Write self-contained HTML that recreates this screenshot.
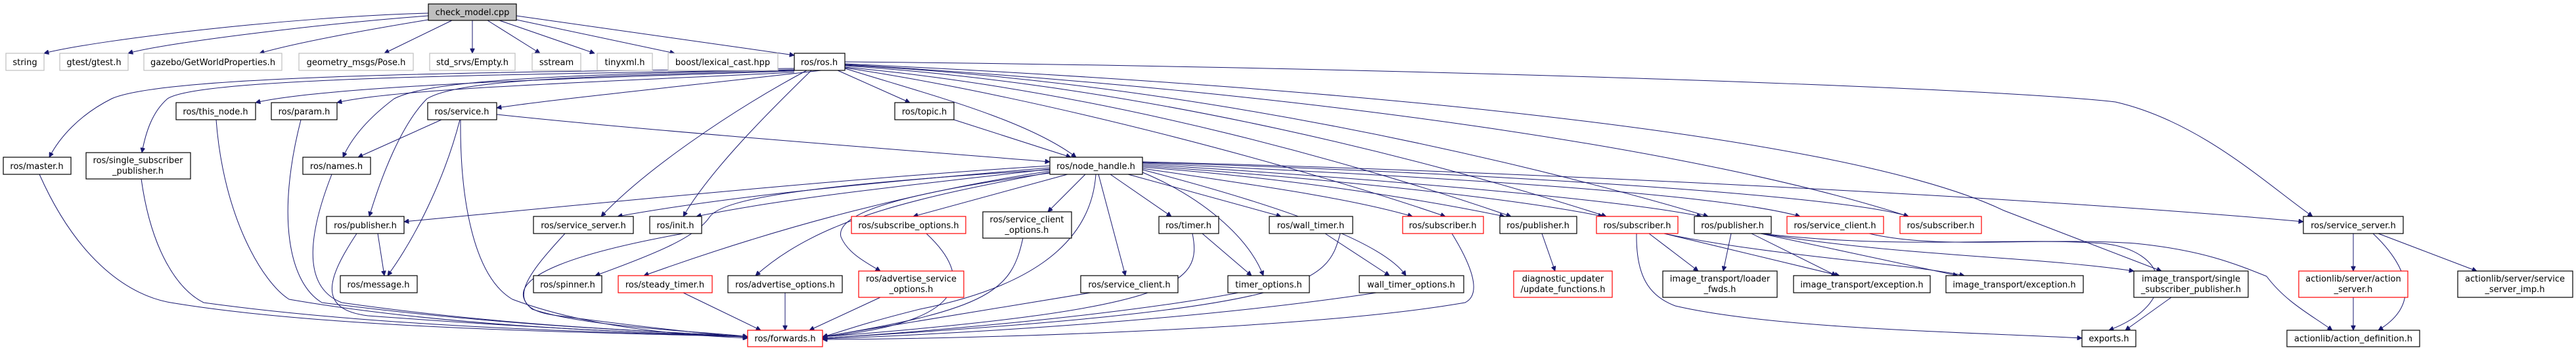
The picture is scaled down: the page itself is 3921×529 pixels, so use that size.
<!DOCTYPE html>
<html><head><meta charset="utf-8"><style>
html,body{margin:0;padding:0;background:#fff;}
svg{display:block;}
text{font-family:"DejaVu Sans","Liberation Sans",sans-serif;font-size:13px;fill:#000;text-anchor:middle;}
.n{fill:#fff;stroke:#000;stroke-width:1.2;}
.g{fill:#fff;stroke:#bfbfbf;stroke-width:1.2;}
.r{fill:#fff;stroke:#ff0000;stroke-width:1.2;}
.e path{fill:none;stroke:#191970;stroke-width:1;marker-end:url(#a);}
</style></head><body>
<svg width="3921" height="529" viewBox="0 0 3921 529" xmlns="http://www.w3.org/2000/svg">
<defs><marker id="a" viewBox="0 0 10 10" refX="10" refY="5" markerWidth="10" markerHeight="7" markerUnits="userSpaceOnUse" orient="auto"><path d="M0,0 L10,5 L0,10 z" fill="#191970" stroke="#191970"/></marker></defs>
<g class="e">
<path d="M652,20 C450,25 150,60 67,81"/>
<path d="M652,24 C500,35 250,65 195,81"/>
<path d="M652,30 C560,45 450,65 395,81"/>
<path d="M688,31 L585,81"/>
<path d="M719,31 L719,81"/>
<path d="M742,31 L822,81"/>
<path d="M760,31 L905,81"/>
<path d="M786,30 L1027,81"/>
<path d="M786,24 L1209,84"/>
<path d="M1209,104 C700,110 250,115 170,150 C120,175 90,210 75,239"/>
<path d="M1209,106 C700,114 300,120 255,150 C232,170 222,200 216,232"/>
<path d="M1209,108 C900,118 500,130 389,156"/>
<path d="M1209,110 C900,125 600,135 513,156"/>
<path d="M1250,107 C1050,130 850,150 756,164"/>
<path d="M1209,106 C800,114 650,125 600,150 C560,180 535,210 522,239"/>
<path d="M1209,107 C900,116 700,120 650,150 C610,190 580,270 562,329"/>
<path d="M1228,107 C1110,170 980,260 915,329"/>
<path d="M1235,107 C1170,170 1080,260 1040,329"/>
<path d="M1275,107 L1385,156"/>
<path d="M1286,104 C1400,140 1560,180 1638,239"/>
<path d="M1286,103 C1600,150 2000,260 2200,329"/>
<path d="M1286,102 C1700,140 2100,260 2300,329"/>
<path d="M1286,100 C1750,130 2200,250 2445,329"/>
<path d="M1286,99 C1800,125 2300,240 2600,329"/>
<path d="M1286,98 C2000,140 2600,230 2905,329"/>
<path d="M1286,97 C2000,130 2800,200 3050,320 L3290,412"/>
<path d="M1286,94 C2000,100 3000,130 3220,155 C3350,185 3450,280 3520,329"/>
<path d="M1452,182 L1630,239"/>
<path d="M756,174 C1000,200 1400,230 1598,246"/>
<path d="M672,182 L545,239"/>
<path d="M700,182 C680,260 640,350 590,419"/>
<path d="M701,182 C700,300 720,420 780,455 C900,500 1050,510 1138,514"/>
<path d="M575,355 L585,419"/>
<path d="M1598,252 C1300,270 900,310 615,337"/>
<path d="M1598,255 C1300,280 1100,300 940,329"/>
<path d="M1598,257 C1400,280 1200,300 1060,329"/>
<path d="M1598,258 C1250,280 1100,300 1080,330 C1060,360 1000,385 906,419"/>
<path d="M1598,260 C1400,290 1200,340 980,419"/>
<path d="M1598,262 C1400,300 1250,330 1150,419"/>
<path d="M1598,263 C1400,290 1270,320 1280,360 C1290,385 1320,400 1340,412"/>
<path d="M1625,265 L1390,329"/>
<path d="M1652,265 L1595,322"/>
<path d="M1672,265 L1713,419"/>
<path d="M1668,265 C1660,380 1550,440 1400,470 C1300,495 1280,505 1252,512"/>
<path d="M1690,265 L1783,329"/>
<path d="M1717,265 L1950,329"/>
<path d="M1739,262 C1830,300 1900,360 1923,419"/>
<path d="M1739,258 C1900,300 2100,360 2140,419"/>
<path d="M1739,256 C1900,280 2050,300 2150,329"/>
<path d="M1739,254 C1950,270 2150,300 2290,329"/>
<path d="M1739,252 C2000,270 2300,300 2440,329"/>
<path d="M1739,250 C2000,265 2450,300 2590,329"/>
<path d="M1739,248 C2100,265 2600,290 2740,329"/>
<path d="M1739,247 C2200,260 2800,295 2905,329"/>
<path d="M1739,246 C2300,260 3100,300 3506,337"/>
<path d="M60,265 C120,400 200,450 260,460 C500,500 900,505 1138,512"/>
<path d="M215,272 C230,380 270,440 310,460 C600,500 950,505 1138,512"/>
<path d="M329,182 C340,330 400,430 440,455 C700,500 1000,505 1138,512"/>
<path d="M458,182 C420,330 440,430 490,460 C800,500 1050,505 1138,512"/>
<path d="M505,265 C460,380 470,440 520,460 C800,500 1050,505 1138,512"/>
<path d="M543,355 C500,420 480,470 560,480 C900,505 1100,510 1138,512"/>
<path d="M860,355 C800,420 760,470 850,480 C1000,500 1100,510 1138,512"/>
<path d="M1040,355 C900,380 750,420 810,470 C900,500 1100,505 1138,512"/>
<path d="M1040,445 L1158,502"/>
<path d="M1195,445 L1195,502"/>
<path d="M1340,452 L1232,502"/>
<path d="M1410,355 C1480,420 1480,490 1252,512"/>
<path d="M1557,362 C1540,440 1510,470 1252,512"/>
<path d="M1660,445 L1252,512"/>
<path d="M1815,355 C1830,430 1800,470 1252,512"/>
<path d="M1830,355 L1905,419"/>
<path d="M1885,445 C1700,480 1400,505 1252,514"/>
<path d="M2040,355 C2020,430 2000,470 1252,514"/>
<path d="M2017,355 L2115,419"/>
<path d="M2095,445 C1800,490 1400,510 1252,515"/>
<path d="M2210,355 C2250,420 2250,450 2230,460 C2000,500 1500,515 1252,516"/>
<path d="M2347,355 L2367,412"/>
<path d="M2510,355 L2585,412"/>
<path d="M2533,355 L2800,419"/>
<path d="M2533,355 C2700,390 2900,400 2990,419"/>
<path d="M2491,355 C2490,420 2510,450 2550,465 C2700,500 3000,505 3169,514"/>
<path d="M2635,355 L2623,412"/>
<path d="M2666,355 L2795,419"/>
<path d="M2680,355 L2980,419"/>
<path d="M2680,355 C2900,390 3100,390 3248,412"/>
<path d="M2680,355 C2900,380 3050,360 3200,370 C3300,380 3320,460 3210,502"/>
<path d="M2845,355 C2950,380 3100,360 3250,370 C3350,380 3400,400 3450,420 C3480,460 3520,480 3550,502"/>
<path d="M3305,452 L3235,502"/>
<path d="M3582,355 L3582,412"/>
<path d="M3582,452 L3582,502"/>
<path d="M3612,355 C3660,400 3690,460 3620,502"/>
<path d="M3620,355 L3770,412"/>
</g>
<g>
<rect x="652" y="6" width="134" height="25" fill="#bfbfbf" stroke="#000" stroke-width="1.2"/><text x="719" y="23">check_model.cpp</text>
<rect class="g" x="9" y="81" width="58" height="26"/><text x="38" y="99">string</text>
<rect class="g" x="91" y="81" width="104" height="26"/><text x="143" y="99">gtest/gtest.h</text>
<rect class="g" x="219" y="81" width="210" height="26"/><text x="324" y="99">gazebo/GetWorldProperties.h</text>
<rect class="g" x="455" y="81" width="174" height="26"/><text x="542" y="99">geometry_msgs/Pose.h</text>
<rect class="g" x="654" y="81" width="130" height="26"/><text x="719" y="99">std_srvs/Empty.h</text>
<rect class="g" x="810" y="81" width="74" height="26"/><text x="847" y="99">sstream</text>
<rect class="g" x="909" y="81" width="84" height="26"/><text x="951" y="99">tinyxml.h</text>
<rect class="g" x="1017" y="81" width="167" height="26"/><text x="1100" y="99">boost/lexical_cast.hpp</text>
<rect class="n" x="1209" y="81" width="77" height="26"/><text x="1247" y="99">ros/ros.h</text>
<rect class="n" x="268" y="156" width="121" height="26"/><text x="328" y="174">ros/this_node.h</text>
<rect class="n" x="413" y="156" width="100" height="26"/><text x="463" y="174">ros/param.h</text>
<rect class="n" x="651" y="156" width="105" height="26"/><text x="703" y="174">ros/service.h</text>
<rect class="n" x="1362" y="156" width="90" height="26"/><text x="1407" y="174">ros/topic.h</text>
<rect class="n" x="5" y="239" width="103" height="26"/><text x="56" y="257">ros/master.h</text>
<rect class="n" x="131" y="232" width="159" height="40"/><text x="210" y="248">ros/single_subscriber</text><text x="210" y="264">_publisher.h</text>
<rect class="n" x="461" y="239" width="103" height="26"/><text x="512" y="257">ros/names.h</text>
<rect class="n" x="1598" y="239" width="141" height="26"/><text x="1668" y="257">ros/node_handle.h</text>
<rect class="n" x="497" y="329" width="118" height="26"/><text x="556" y="347">ros/publisher.h</text>
<rect class="n" x="812" y="329" width="152" height="26"/><text x="888" y="347">ros/service_server.h</text>
<rect class="n" x="989" y="329" width="79" height="26"/><text x="1028" y="347">ros/init.h</text>
<rect class="r" x="1296" y="329" width="174" height="26"/><text x="1383" y="347">ros/subscribe_options.h</text>
<rect class="n" x="1496" y="322" width="135" height="40"/><text x="1563" y="338">ros/service_client</text><text x="1563" y="354">_options.h</text>
<rect class="n" x="1764" y="329" width="91" height="26"/><text x="1809" y="347">ros/timer.h</text>
<rect class="n" x="1932" y="329" width="127" height="26"/><text x="1995" y="347">ros/wall_timer.h</text>
<rect class="r" x="2135" y="329" width="123" height="26"/><text x="2196" y="347">ros/subscriber.h</text>
<rect class="n" x="2283" y="329" width="117" height="26"/><text x="2341" y="347">ros/publisher.h</text>
<rect class="r" x="2430" y="329" width="124" height="26"/><text x="2492" y="347">ros/subscriber.h</text>
<rect class="n" x="2579" y="329" width="117" height="26"/><text x="2637" y="347">ros/publisher.h</text>
<rect class="r" x="2720" y="329" width="147" height="26"/><text x="2793" y="347">ros/service_client.h</text>
<rect class="r" x="2892" y="329" width="124" height="26"/><text x="2954" y="347">ros/subscriber.h</text>
<rect class="n" x="3506" y="329" width="152" height="26"/><text x="3582" y="347">ros/service_server.h</text>
<rect class="n" x="518" y="419" width="117" height="26"/><text x="576" y="437">ros/message.h</text>
<rect class="n" x="812" y="419" width="104" height="26"/><text x="864" y="437">ros/spinner.h</text>
<rect class="r" x="941" y="419" width="143" height="26"/><text x="1012" y="437">ros/steady_timer.h</text>
<rect class="n" x="1108" y="419" width="174" height="26"/><text x="1195" y="437">ros/advertise_options.h</text>
<rect class="r" x="1307" y="412" width="160" height="40"/><text x="1387" y="428">ros/advertise_service</text><text x="1387" y="444">_options.h</text>
<rect class="n" x="1645" y="419" width="148" height="26"/><text x="1719" y="437">ros/service_client.h</text>
<rect class="n" x="1869" y="419" width="124" height="26"/><text x="1931" y="437">timer_options.h</text>
<rect class="n" x="2069" y="419" width="159" height="26"/><text x="2148" y="437">wall_timer_options.h</text>
<rect class="r" x="2304" y="412" width="150" height="40"/><text x="2379" y="428">diagnostic_updater</text><text x="2379" y="444">/update_functions.h</text>
<rect class="n" x="2531" y="412" width="174" height="40"/><text x="2618" y="428">image_transport/loader</text><text x="2618" y="444">_fwds.h</text>
<rect class="n" x="2730" y="419" width="208" height="26"/><text x="2834" y="437">image_transport/exception.h</text>
<rect class="n" x="2962" y="419" width="209" height="26"/><text x="3066" y="437">image_transport/exception.h</text>
<rect class="n" x="3248" y="412" width="174" height="40"/><text x="3335" y="428">image_transport/single</text><text x="3335" y="444">_subscriber_publisher.h</text>
<rect class="r" x="3499" y="412" width="166" height="40"/><text x="3582" y="428">actionlib/server/action</text><text x="3582" y="444">_server.h</text>
<rect class="n" x="3741" y="412" width="175" height="40"/><text x="3828" y="428">actionlib/server/service</text><text x="3828" y="444">_server_imp.h</text>
<rect class="r" x="1138" y="502" width="114" height="25"/><text x="1195" y="519">ros/forwards.h</text>
<rect class="n" x="3169" y="502" width="82" height="25"/><text x="3210" y="519">exports.h</text>
<rect class="n" x="3481" y="502" width="202" height="25"/><text x="3582" y="519">actionlib/action_definition.h</text>
</g>
</svg>
</body></html>
